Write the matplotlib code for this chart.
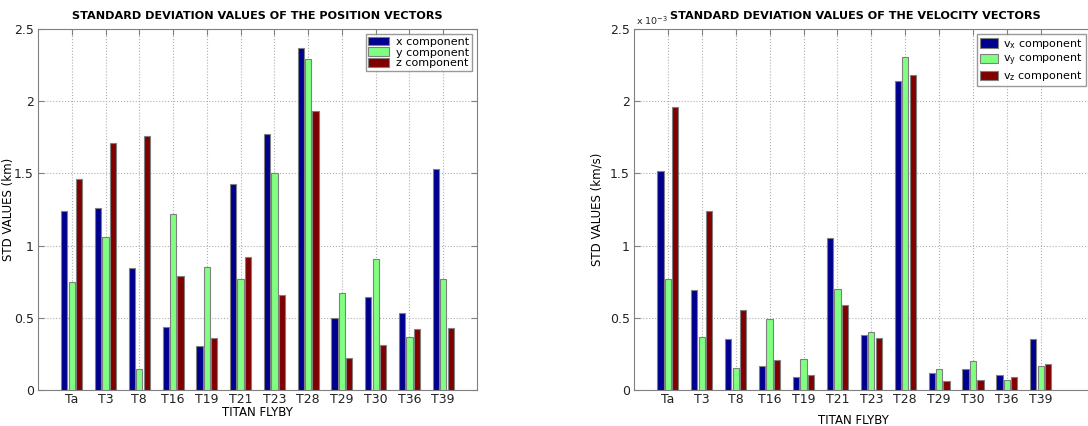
import numpy as np
import matplotlib
matplotlib.use("Agg")
import matplotlib.pyplot as plt

flybys = ["Ta", "T3", "T8", "T16", "T19", "T21", "T23", "T28", "T29", "T30", "T36", "T39"]

# position std (km)
pos_x = [1.242, 1.260, 0.847, 0.434, 0.302, 1.427, 1.773, 2.371, 0.497, 0.644, 0.533, 1.528]
pos_y = [0.746, 1.057, 0.145, 1.217, 0.854, 0.767, 1.505, 2.290, 0.672, 0.905, 0.369, 0.767]
pos_z = [1.461, 1.708, 1.761, 0.789, 0.362, 0.919, 0.660, 1.932, 0.224, 0.310, 0.425, 0.427]

# velocity std (x 10^-3 km/s)
vel_x = [1.514, 0.690, 0.351, 0.169, 0.089, 1.050, 0.382, 2.140, 0.117, 0.145, 0.101, 0.351]
vel_y = [0.767, 0.369, 0.155, 0.490, 0.215, 0.702, 0.405, 2.304, 0.145, 0.198, 0.069, 0.169]
vel_z = [1.962, 1.237, 0.556, 0.209, 0.107, 0.587, 0.359, 2.181, 0.064, 0.069, 0.087, 0.178]

colors = ["#00008f", "#80ff80", "#800000"]
W, H = 1088, 426

fig = plt.figure(figsize=(W / 100, H / 100), dpi=100)
ax1 = fig.add_axes([38 / W, 36 / H, 439 / W, 361 / H])
ax2 = fig.add_axes([634 / W, 36 / H, 462 / W, 361 / H])


def draw(ax, series, labels, xmax):
    x = np.arange(1, len(flybys) + 1)
    for k, (vals, c, lab) in enumerate(zip(series, colors, labels)):
        ax.bar(x + (k - 1) * 0.22, vals, width=0.185, color=c,
               edgecolor="#808080", linewidth=0.8, label=lab, zorder=3)
    ax.set_xlim(0, xmax)
    ax.set_ylim(0, 2.5)
    ax.set_xticks(x)
    ax.set_xticklabels(flybys)
    ax.set_yticks([0, 0.5, 1, 1.5, 2, 2.5])
    ax.set_yticklabels(["0", "0.5", "1", "1.5", "2", "2.5"])
    ax.grid(True, linestyle=":", color="#b0b0b0", linewidth=0.8, zorder=0)
    ax.tick_params(direction="in", length=4, color="#808080", labelsize=9,
                   top=True, right=True, pad=3, labelcolor="#222222")
    ax.tick_params(axis="x", pad=2.5)
    for s in ax.spines.values():
        s.set_color("#808080")


draw(ax1, [pos_x, pos_y, pos_z], ["x component", "y component", "z component"], 13)
ax1.set_title("STANDARD DEVIATION VALUES OF THE POSITION VECTORS",
              fontsize=8.1, fontweight="bold", pad=7)
ax1.set_ylabel("STD VALUES (km)", fontsize=8.5, va="center")
ax1.yaxis.set_label_coords((9 - 38) / 439, 0.5)
ax1.set_xlabel("TITAN FLYBY", fontsize=8.5, va="center")
ax1.xaxis.set_label_coords(0.5, (390 - 412) / 361)
ax1.legend(loc="upper right", fontsize=8, frameon=True, fancybox=False,
           edgecolor="#808080", handlelength=1.9, handletextpad=0.6,
           handleheight=0.8, labelspacing=0.05, borderpad=0.25,
           borderaxespad=0, bbox_to_anchor=((472 - 38) / 439, (390 - 34) / 361))

draw(ax2, [vel_x, vel_y, vel_z],
     [r"v$_{\mathrm{x}}$ component", r"v$_{\mathrm{y}}$ component",
      r"v$_{\mathrm{z}}$ component"],
     462 / 33.9)
ax2.set_title("STANDARD DEVIATION VALUES OF THE VELOCITY VECTORS",
              fontsize=8.1, fontweight="bold", pad=7, x=(855 - 634) / 462)
ax2.set_ylabel("STD VALUES (km/s)", fontsize=8.5, va="center")
ax2.yaxis.set_label_coords((597 - 634) / 462, 0.5)
ax2.set_xlabel("TITAN FLYBY", fontsize=8.5, va="center")
ax2.xaxis.set_label_coords((853 - 634) / 462, (390 - 420) / 361)
ax2.text(0.004, 1.006, r"x 10$^{\mathrm{-3}}$", transform=ax2.transAxes,
         fontsize=6.8, ha="left", va="bottom", color="#222222")
ax2.legend(loc="upper left", fontsize=8, frameon=True, fancybox=False,
           edgecolor="#808080", handlelength=1.6, handletextpad=0.5,
           handleheight=0.9, labelspacing=0.1, borderpad=0.25,
           borderaxespad=0, bbox_to_anchor=((977 - 634) / 462, (390 - 34) / 361))

fig.savefig("out.png", dpi=100)
